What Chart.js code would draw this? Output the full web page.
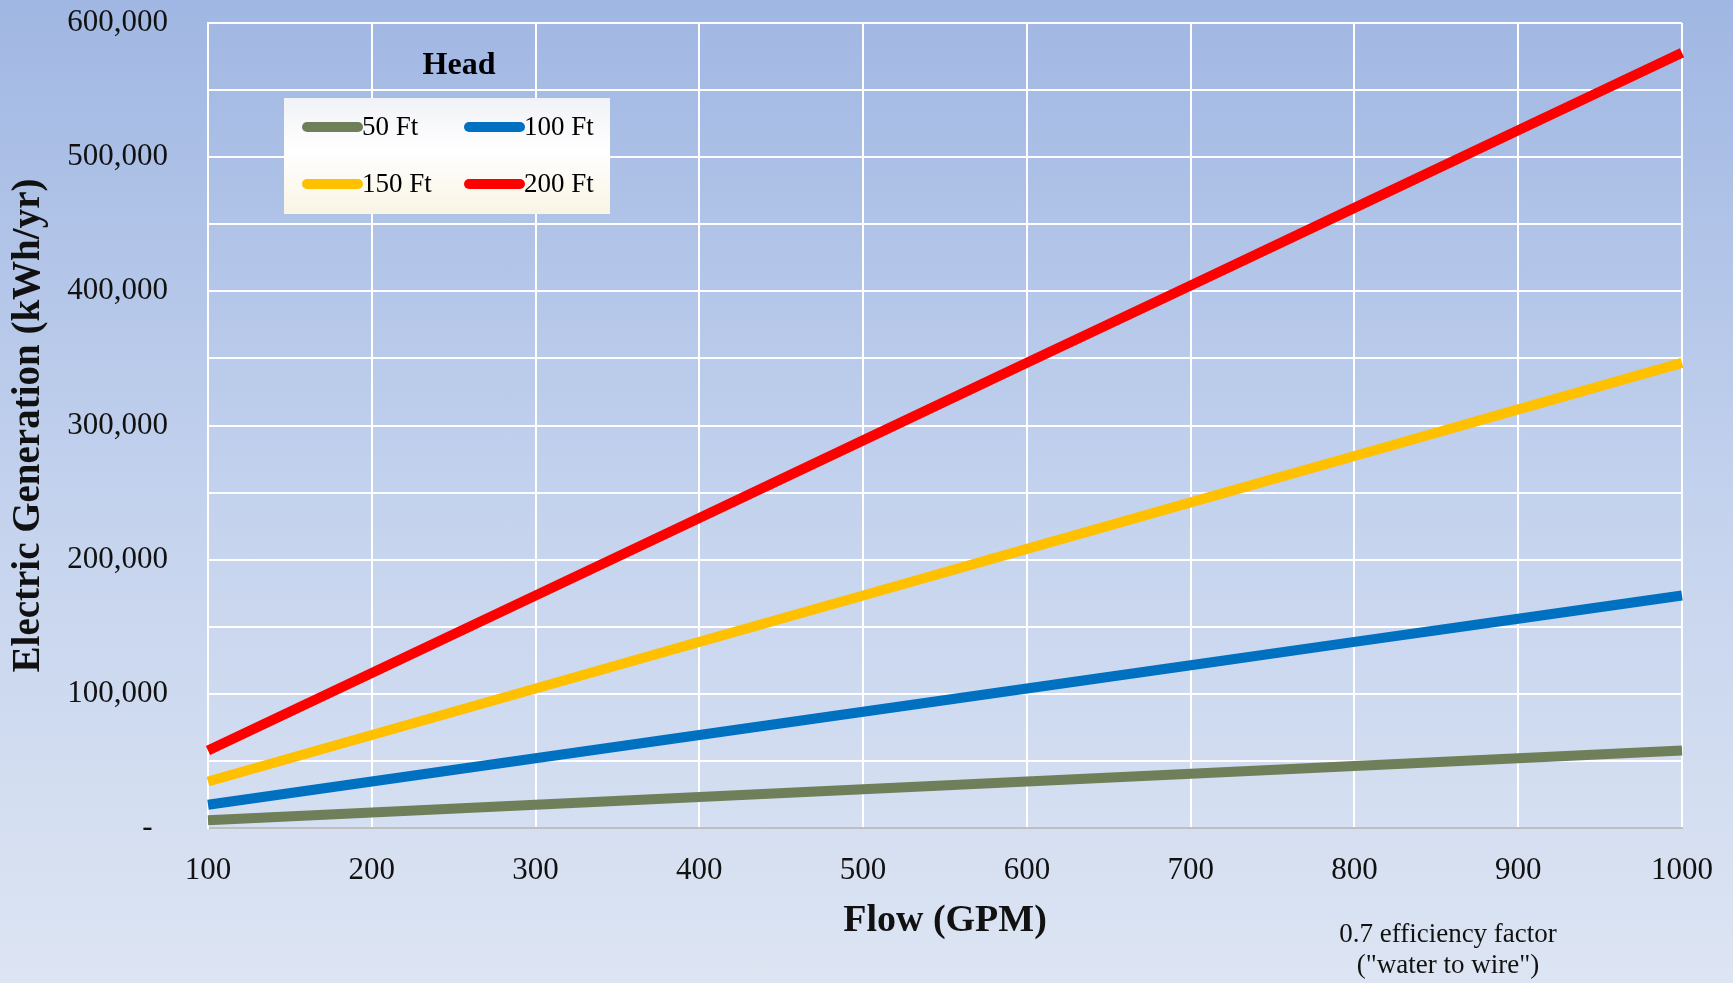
<!DOCTYPE html>
<html>
<head>
<meta charset="utf-8">
<script src="https://cdn.jsdelivr.net/npm/chart.js@4.4.0/dist/chart.umd.min.js"></script>
<style>
    html, body { margin: 0; padding: 0; }
    body {
        width: 1733px;
        height: 983px;
        overflow: hidden;
        background: linear-gradient(to bottom, #A0B7E3 0%, #C6D4EE 55%, #DDE5F3 100%);
    }
    #wrap { position: relative; width: 1733px; height: 983px; }
</style>
</head>
<body>
<div id="wrap"><canvas id="hydroChart" width="1733" height="983"></canvas></div>
<script>
// --- Chart data ---
const flows = [100, 200, 300, 400, 500, 600, 700, 800, 900, 1000];
const head50 = [5800, 11600, 17300, 23100, 28900, 34700, 40400, 46200, 52000, 57800];
const head100 = [17300, 34700, 52000, 69300, 86700, 104000, 121300, 138700, 156000, 173300];
const head150 = [34700, 69300, 104000, 138700, 173300, 208000, 242700, 277300, 312000, 346700];
const head200 = [57800, 115600, 173300, 231100, 288900, 346700, 404400, 462200, 520000, 577800];
const seriesNames = ['50 Ft', '100 Ft', '150 Ft', '200 Ft'];
const yTickLabels = {0: '-  ', 100000: '100,000', 200000: '200,000', 300000: '300,000',
    400000: '400,000', 500000: '500,000', 600000: '600,000'};

const FONT = "'Palatino Linotype', 'Book Antiqua', Palatino, 'Liberation Serif', serif";
const colors = ['#6F7F5A', '#0070C0', '#FFC000', '#FF0000'];

// legend box + "Head" title + efficiency note, drawn on top of the plot
const legendBox = {
    id: 'legendBox',
    afterDatasetsDraw(chart) {
        const ctx = chart.ctx;
        ctx.save();

        ctx.fillStyle = '#000';
        ctx.font = 'bold 32px ' + FONT;
        ctx.textAlign = 'center';
        ctx.textBaseline = 'middle';
        ctx.fillText('Head', 459, 66);

        const bx = 284, by = 98, bw = 326, bh = 116;
        const grad = ctx.createLinearGradient(0, by, 0, by + bh);
        grad.addColorStop(0, '#F1F2F7');
        grad.addColorStop(0.45, '#FFFFFF');
        grad.addColorStop(1, '#F9F4E4');
        ctx.fillStyle = grad;
        ctx.fillRect(bx, by, bw, bh);

        const slots = [[302, 127], [464, 127], [302, 184], [464, 184]];
        ctx.font = '27px ' + FONT;
        ctx.textAlign = 'left';
        chart.data.datasets.forEach((ds, i) => {
            const [sx, sy] = slots[i];
            ctx.strokeStyle = ds.borderColor;
            ctx.lineWidth = 10;
            ctx.lineCap = 'round';
            ctx.beginPath();
            ctx.moveTo(sx + 5, sy);
            ctx.lineTo(sx + 56, sy);
            ctx.stroke();
            ctx.fillStyle = '#000';
            ctx.fillText(ds.label, sx + 60, sy + 1);
        });

        ctx.font = '27px ' + FONT;
        ctx.textAlign = 'center';
        ctx.fillStyle = '#111';
        ctx.fillText('0.7 efficiency factor', 1448, 935);
        ctx.fillText('("water to wire")', 1448, 966);
        ctx.restore();
    }
};

const ctx = document.getElementById('hydroChart').getContext('2d');
new Chart(ctx, {
    type: 'line',
    data: {
        labels: flows,
        datasets: [head50, head100, head150, head200].map((vals, i) => ({
            label: seriesNames[i],
            data: vals,
            borderColor: colors[i],
            backgroundColor: colors[i],
            borderWidth: 10,
            pointRadius: 0,
            tension: 0,
            fill: false
        }))
    },
    options: {
        responsive: false,
        animation: false,
        layout: { padding: { top: 23, right: 51, bottom: 0, left: 0 } },
        plugins: {
            legend: { display: false },
            tooltip: { enabled: false }
        },
        scales: {
            x: {
                type: 'category',
                offset: false,
                grid: { color: '#FFFFFF', lineWidth: 2, drawTicks: false },
                border: { display: true, color: '#BFBFBF', width: 2 },
                ticks: {
                    color: '#111',
                    font: { family: FONT, size: 31 },
                    padding: 24,
                    autoSkip: false,
                    maxRotation: 0
                },
                title: {
                    display: true,
                    text: 'Flow (GPM)',
                    color: '#111',
                    font: { family: FONT, size: 38, weight: 'bold' },
                    padding: { top: 0, bottom: 39 }
                },
                afterFit(scale) {
                    scale.height = 155;
                    scale.paddingLeft = 0;
                    scale.paddingRight = 0;
                }
            },
            y: {
                min: 0,
                max: 600000,
                grid: { color: '#FFFFFF', lineWidth: 2, drawTicks: false },
                border: { display: true, color: '#FFFFFF', width: 2 },
                ticks: {
                    stepSize: 50000,
                    color: '#111',
                    font: { family: FONT, size: 31 },
                    padding: 40,
                    autoSkip: false,
                    callback: (v) => (v in yTickLabels ? yTickLabels[v] : '')
                },
                title: {
                    display: true,
                    text: 'Electric Generation (kWh/yr)',
                    color: '#111',
                    font: { family: FONT, size: 39, weight: 'bold' },
                    padding: { top: 6, bottom: 0 }
                },
                afterFit(scale) {
                    scale.width = 208;
                    scale.paddingTop = 0;
                    scale.paddingBottom = 0;
                }
            }
        }
    },
    plugins: [legendBox]
});
</script>
</body>
</html>
